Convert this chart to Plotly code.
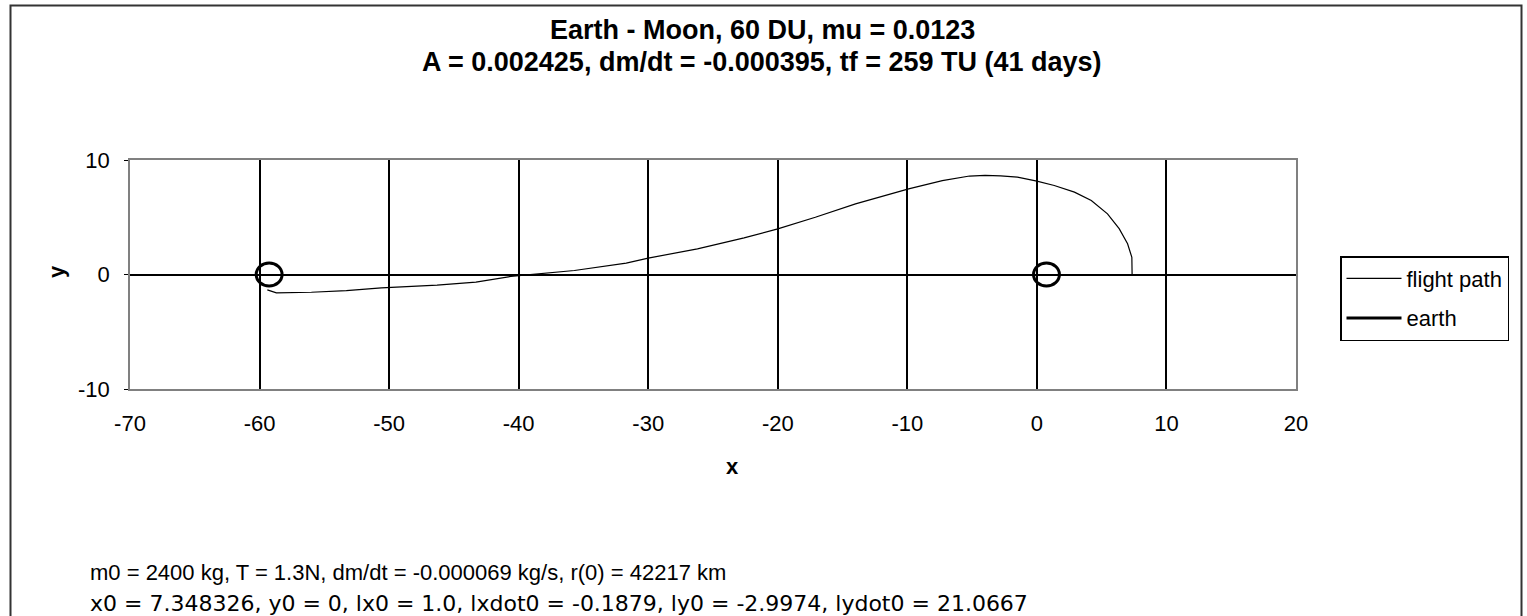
import plotly.graph_objects as go

# ---- data -------------------------------------------------------------
# spacecraft trajectory in the rotating frame (DU)
path_x = [7.35, 7.33, 7.0, 6.35, 5.45, 4.2, 2.9, 1.34, 0.0, -1.5, -2.8, -4.0, -5.2,
          -7.3, -9.9, -14.0, -17.1, -20.0, -22.6, -26.2, -30.0, -31.7, -35.7, -37.8,
          -40.6, -43.3, -46.3, -50.6, -53.3, -56.0, -58.7, -59.4]
path_y = [0.0, 1.5, 2.68, 4.0, 5.3, 6.46, 7.19, 7.77, 8.15, 8.5, 8.62, 8.66, 8.6,
          8.2, 7.48, 6.17, 5.0, 3.99, 3.2, 2.24, 1.43, 0.99, 0.35, 0.12,
          -0.17, -0.67, -0.93, -1.16, -1.4, -1.55, -1.6, -1.34]

# bodies (centres on the x axis, radius in DU)
body_x = [0.74, -59.26]
body_y = [0.0, 0.0]
body_r = [1.0, 1.0]

x_ticks = [-70, -60, -50, -40, -30, -20, -10, 0, 10, 20]
y_ticks = [-10, 0, 10]

title_lines = ["<b>Earth - Moon, 60 DU, mu = 0.0123</b>",
               "<b>A = 0.002425, dm/dt = -0.000395, tf = 259 TU (41 days)</b>"]
note_lines = ["m0 = 2400 kg, T = 1.3N, dm/dt = -0.000069 kg/s, r(0) = 42217 km",
              "x0 = 7.348326, y0 = 0, lx0 = 1.0, lxdot0 = -0.1879, ly0 = -2.9974, lydot0 = 21.0667"]

# ---- layout geometry (pixels) -----------------------------------------
W, H = 1527, 616
L, R, T, B = 130, 1296, 160, 389
PW, PH = R - L, B - T


def fx(p):
    return (p - L) / PW


def fy(p):
    return (B - p) / PH


FONT = "Arial, Liberation Sans, sans-serif"
WIDE = "DejaVu Sans, sans-serif"

fig = go.Figure()
fig.add_trace(go.Scatter(x=path_x, y=path_y, mode="lines", name="flight path",
                         line=dict(color="black", width=1.2), legendgroup="a"))
# legend entry for the bodies; the outlines themselves are drawn as shapes
fig.add_trace(go.Scatter(x=[None], y=[None], mode="lines", name="earth",
                         line=dict(color="black", width=3), legendgroup="b"))

shapes = []
for cx, cy, r in zip(body_x, body_y, body_r):
    shapes.append(dict(type="circle", xref="x", yref="y",
                       x0=cx - r, x1=cx + r, y0=cy - r, y1=cy + r,
                       line=dict(color="black", width=3)))
# outer chart frame
shapes.append(dict(type="rect", xref="paper", yref="paper",
                   x0=fx(10.5), x1=fx(1521.5), y0=fy(620), y1=fy(5.5),
                   line=dict(color="#333333", width=2), layer="below"))

annotations = []
for txt, yp in zip(title_lines, [30, 62]):
    annotations.append(dict(text=txt, xref="paper", yref="paper", x=fx(762), y=fy(yp),
                            xanchor="center", yanchor="middle", showarrow=False,
                            font=dict(family=FONT, size=27, color="black")))
annotations.append(dict(text=note_lines[0], xref="paper", yref="paper", x=fx(88), y=fy(572),
                        xanchor="left", yanchor="middle", showarrow=False,
                        font=dict(family=FONT, size=22, color="black")))
annotations.append(dict(text=note_lines[1], xref="paper", yref="paper", x=fx(88), y=fy(603),
                        xanchor="left", yanchor="middle", showarrow=False,
                        font=dict(family=WIDE, size=22, color="black")))
annotations.append(dict(text="<b>x</b>", xref="paper", yref="paper", x=fx(732), y=fy(466),
                        xanchor="center", yanchor="middle", showarrow=False,
                        font=dict(family=FONT, size=22, color="black")))
annotations.append(dict(text="<b>y</b>", xref="paper", yref="paper", x=fx(56), y=fy(272),
                        xanchor="center", yanchor="middle", showarrow=False, textangle=-90,
                        font=dict(family=FONT, size=22, color="black")))

fig.update_layout(
    width=W, height=H, autosize=False,
    margin=dict(l=L, r=W - R, t=T, b=H - B, pad=0),
    paper_bgcolor="white", plot_bgcolor="white",
    font=dict(family=FONT, color="black"),
    shapes=shapes, annotations=annotations,
    showlegend=True,
    legend=dict(x=fx(1340), y=fy(256), xanchor="left", yanchor="top",
                bordercolor="black", borderwidth=1.5, bgcolor="white",
                font=dict(family=FONT, size=22, color="black"),
                traceorder="grouped", tracegroupgap=8, itemwidth=55),
    xaxis=dict(range=[-70, 20], tickvals=x_ticks, ticktext=[str(v) for v in x_ticks],
               showgrid=True, gridcolor="black", gridwidth=1.5,
               zeroline=True, zerolinecolor="black", zerolinewidth=1.5,
               showline=True, linecolor="#808080", linewidth=1.5, mirror=True,
               ticks="", ticklabelstandoff=14,
               tickfont=dict(family=FONT, size=22, color="black")),
    yaxis=dict(range=[-10, 10], tickvals=y_ticks, ticktext=[str(v) for v in y_ticks],
               showgrid=False,
               zeroline=True, zerolinecolor="black", zerolinewidth=1.5,
               showline=True, linecolor="#808080", linewidth=1.5, mirror=True,
               ticks="outside", ticklen=4, tickcolor="black", ticklabelstandoff=10,
               tickfont=dict(family=FONT, size=22, color="black")),
)

fig.write_html("out.html")
